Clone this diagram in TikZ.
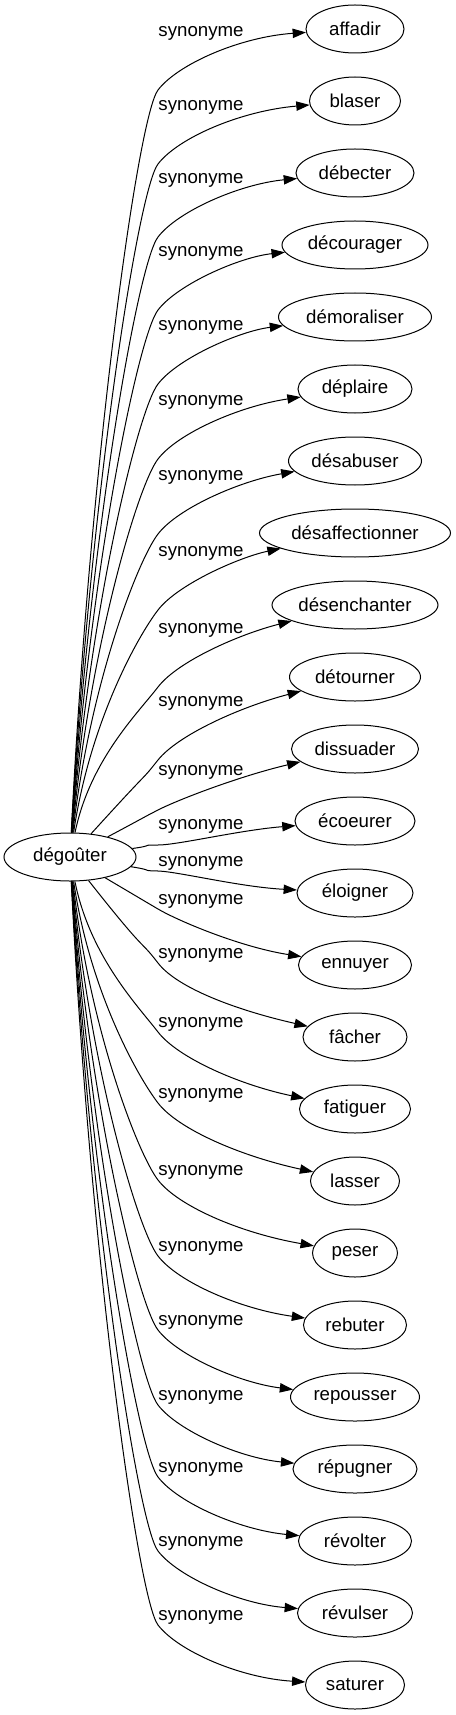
\documentclass[tikz,border=0pt]{standalone}
\usepackage{fontspec}
\setmainfont{Liberation Sans}
\usetikzlibrary{arrows.meta, shapes.geometric}
\tikzset{
  word/.style={draw, ellipse, inner sep=0pt, minimum height=36pt, line width=0.75pt, font=\fontsize{14pt}{16pt}\selectfont},
  syn/.style={inner sep=0pt, font=\fontsize{14pt}{16pt}\selectfont},
  edge/.style={-{Triangle[length=10pt,width=7pt]}, line width=0.75pt},
}
\begin{document}
\begin{tikzpicture}[x=0.75pt, y=-0.75pt]
  \useasboundingbox (0,0) rectangle (455,1715);
  \node[word, minimum width=99pt] (dg) at (70,857) {dégoûter};
  % synonyms: index/word/width/label y/offset
  \foreach \i/\name/\w/\ly/\a in {
      1/affadir/98/33/57, 2/blaser/91/107/57, 3/débecter/118/180/57,
      4/décourager/146/253/57, 5/démoraliser/153/327/57, 6/déplaire/114/402/57,
      7/désabuser/133/477/57, 8/désaffectionner/191/553/57, 9/désenchanter/166/630/57,
      10/détourner/131/703/57, 11/dissuader/127/772/38, 12/écoeurer/120/826/19,
      13/éloigner/116/863/20, 14/ennuyer/113/901/42, 15/fâcher/104/955/52,
      16/fatiguer/111/1024/57, 17/lasser/89/1095/57, 18/peser/85/1172/57,
      19/rebuter/103/1248/57, 20/repousser/129/1322/57, 21/répugner/124/1397/57,
      22/révolter/113/1469/57, 23/révulser/115/1543/57, 24/saturer/99/1617/57}{
    \pgfmathsetmacro{\ny}{29+72*(\i-1)}
    \node[word, minimum width=\w*0.75pt] (n\i) at (355,\ny) {\name};
    \node[syn] (l\i) at (201,\ly) {synonyme};
    \ifnum\i<13
      \pgfmathsetmacro{\py}{\ly+\a}
      \pgfmathsetmacro{\qy}{\ly+4}
      \pgfmathsetmacro{\m}{min(1.3,(845-\py)/68)}
      \pgfmathsetmacro{\t}{max(0,min(1,(833-\py-73)/73))}
      \pgfmathsetmacro{\cy}{\t*(833+\py)/2+(1-\t)*\py}
      \pgfmathsetmacro{\ya}{\py+20*\m}
      \pgfmathsetmacro{\yb}{\py-20*\m}
    \else
      \pgfmathsetmacro{\py}{\ly+8}
      \pgfmathsetmacro{\qy}{\ly+\a+4}
      \pgfmathsetmacro{\m}{min(1.3,(\py-869)/68)}
      \pgfmathsetmacro{\t}{max(0,min(1,(\py-881-73)/73))}
      \pgfmathsetmacro{\cy}{\t*(881+\py)/2+(1-\t)*\py}
      \pgfmathsetmacro{\ya}{\py-20*\m}
      \pgfmathsetmacro{\yb}{\py+20*\m}
    \fi
    \pgfmathsetmacro{\cx}{\t*90+(1-\t)*158}
    \draw[edge] (dg) .. controls (\cx,\cy) and (138,\ya) .. (158,\py)
      .. controls (178,\yb) and (240,\qy) .. (n\i);
  }
\end{tikzpicture}
\end{document}
